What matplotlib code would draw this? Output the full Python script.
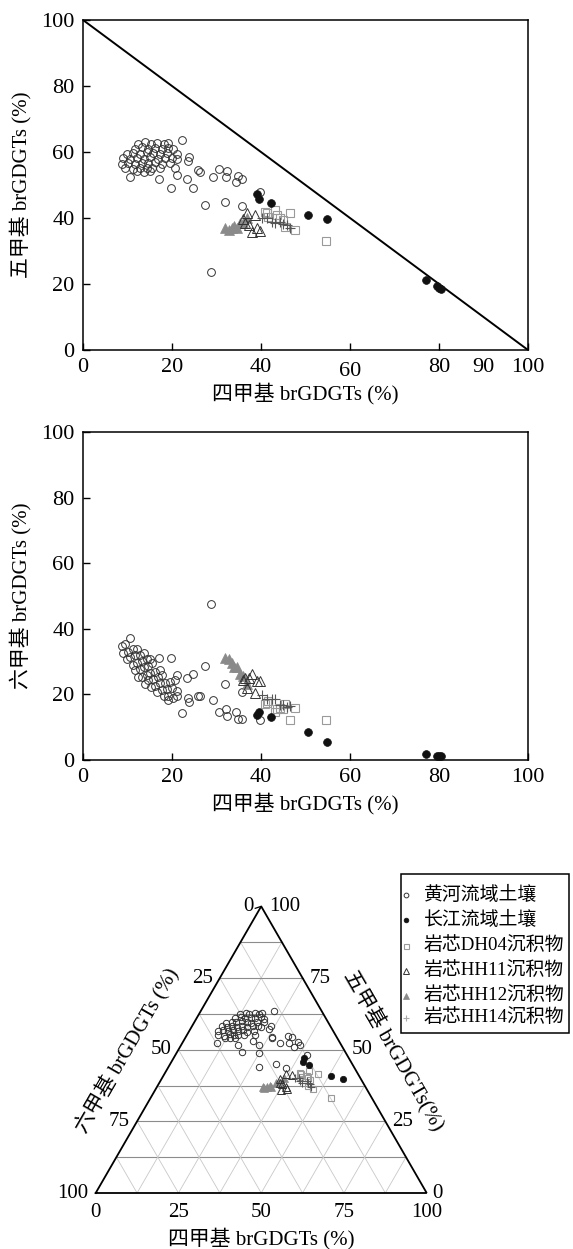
import matplotlib
matplotlib.use('Agg')
import matplotlib.pyplot as plt
import matplotlib.transforms as mtransforms
import numpy as np

plt.rcParams['font.family'] = ['Liberation Serif', 'Noto Sans CJK SC']
plt.rcParams['axes.unicode_minus'] = False

# ---- data (%): tetra-, penta-, hexa-methylated brGDGTs ----
yr_tetra = [12.4, 13.9, 15.2, 16.6, 18.2, 19.0,
            11.7, 13.2, 14.7, 16.2, 17.7, 19.2, 20.3,
            9.8, 11.3, 12.7, 14.3, 15.8, 17.3, 18.8, 21.1,
            9.1, 10.6, 12.1, 13.6, 15.1, 16.9, 18.4, 19.9, 21.1,
            8.7, 10.2, 11.7, 13.2, 14.7, 16.2, 17.7, 19.6,
            9.4, 11.3, 12.8, 14.3, 15.4, 17.3, 20.7,
            12.1, 13.6, 15.1, 10.6,
            22.2, 23.9, 23.7, 25.9, 26.4, 30.6, 32.3, 34.8, 35.8, 29.3, 32.1, 34.4,
            21.2, 23.4, 17.0, 19.7, 24.8, 27.5, 32.0, 35.8, 28.7, 39.8]
yr_penta = [62.4, 62.9, 62.5, 62.8, 62.3, 62.7,
            61.0, 61.4, 60.9, 61.2, 61.0, 61.3, 60.8,
            59.4, 59.8, 59.5, 59.9, 59.6, 59.3, 59.7, 59.5,
            58.2, 57.9, 58.3, 58.0, 58.4, 57.8, 58.1, 58.2, 57.9,
            56.5, 56.8, 56.4, 56.7, 56.6, 56.9, 56.3, 56.6,
            55.2, 54.9, 55.3, 55.0, 55.1, 55.2, 55.0,
            54.1, 53.9, 54.2, 52.3,
            63.6, 58.4, 57.3, 54.5, 54.0, 54.7, 54.3, 52.7, 51.7, 52.5, 52.3, 51.0,
            52.9, 51.7, 51.8, 49.2, 49.0, 43.9, 44.9, 43.6, 23.7, 48.0]
yr_hexa = [25.2, 23.2, 22.3, 20.6, 19.5, 18.3,
           27.3, 25.4, 24.4, 22.6, 21.3, 19.5, 18.9,
           30.8, 28.9, 27.8, 25.8, 24.6, 23.4, 21.5, 19.4,
           32.7, 31.5, 29.6, 28.4, 26.5, 25.3, 23.5, 21.9, 21.0,
           34.8, 33.0, 31.9, 30.1, 28.7, 26.9, 26.0, 23.8,
           35.4, 33.8, 31.9, 30.7, 29.5, 27.5, 24.3,
           33.8, 32.5, 30.7, 37.1,
           14.2, 17.7, 19.0, 19.6, 19.6, 14.7, 13.4, 12.5, 12.5, 18.2, 15.6, 14.6,
           25.9, 24.9, 31.2, 31.1, 26.2, 28.6, 23.1, 20.6, 47.6, 12.2]

cj_tetra = [39.2, 39.6, 42.2, 50.6, 54.9, 77.0, 79.5, 79.9, 80.4]
cj_penta = [47.2, 45.8, 44.6, 40.9, 39.6, 21.2, 19.4, 18.9, 18.4]
cj_hexa = [13.6, 14.6, 13.2, 8.5, 5.5, 1.8, 1.1, 1.2, 1.2]

dh04_tetra = [40.9, 41.3, 41.6, 43.1, 43.5, 44.2, 45.0, 45.4, 46.5, 47.6, 54.7]
dh04_penta = [41.9, 41.4, 40.4, 42.4, 40.9, 40.0, 39.4, 37.4, 41.4, 36.4, 33.0]
dh04_hexa = [17.2, 17.3, 18.0, 14.5, 15.6, 15.8, 15.6, 17.2, 12.1, 16.0, 12.3]

hh11_tetra = [36.0, 36.4, 36.8, 37.2, 37.9, 38.7, 39.0, 39.8]
hh11_penta = [39.6, 38.5, 41.4, 37.9, 35.9, 41.0, 36.9, 36.2]
hh11_hexa = [24.4, 25.1, 21.8, 24.9, 26.2, 20.3, 24.1, 24.0]

hh12_tetra = [32.0, 32.7, 33.4, 34.0, 34.5, 35.3, 36.0, 36.8]
hh12_penta = [37.0, 36.5, 37.0, 37.5, 37.0, 38.5, 38.5, 40.0]
hh12_hexa = [31.0, 30.8, 29.6, 28.5, 28.5, 26.2, 25.5, 23.2]

hh14_tetra = [40.2, 41.3, 42.4, 43.1, 44.3, 45.0, 45.8, 46.5]
hh14_penta = [40.0, 40.0, 38.9, 38.4, 38.9, 38.2, 37.9, 36.9]
hh14_hexa = [19.8, 18.7, 18.7, 18.5, 16.8, 16.8, 16.3, 16.6]

labels = ['黄河流域土壤', '长江流域土壤', '岩芯DH04沉积物',
          '岩芯HH11沉积物', '岩芯HH12沉积物', '岩芯HH14沉积物']

# samples shown in the ternary diagram (the low-penta ones are left out there)
tern_min_penta = 30

groups = [
    (yr_tetra, yr_penta, yr_hexa, dict(marker='o', mfc='none', mec='#333333', mew=0.7)),
    (hh12_tetra, hh12_penta, hh12_hexa, dict(marker='^', mfc='#8a8a8a', mec='#8a8a8a', mew=0.5)),
    (hh11_tetra, hh11_penta, hh11_hexa, dict(marker='^', mfc='none', mec='#333333', mew=0.7)),
    (dh04_tetra, dh04_penta, dh04_hexa, dict(marker='s', mfc='none', mec='#9a9a9a', mew=0.8)),
    (hh14_tetra, hh14_penta, hh14_hexa, dict(marker='+', mfc='none', mec='#555555', mew=0.8)),
    (cj_tetra, cj_penta, cj_hexa, dict(marker='o', mfc='#111111', mec='#111111', mew=0.5)),
]
sizes = {'o': 5.6, '^': 6.8, 's': 5.4, '+': 6.5}

W, H = 573, 1249
fig = plt.figure(figsize=(W / 100, H / 100), dpi=100, facecolor='white')


def px_axes(x0, y0, x1, y1):
    return fig.add_axes([x0 / W, 1 - y1 / H, (x1 - x0) / W, (y1 - y0) / H])


def style_axes(ax, ylabel):
    ax.set_xlim(0, 100)
    ax.set_ylim(0, 100)
    ax.set_xticks([0, 20, 40, 60, 80, 100])
    ax.set_yticks([0, 20, 40, 60, 80, 100])
    ax.tick_params(direction='in', length=5, width=1, labelsize=16, top=False, right=False)
    ax.tick_params(axis='x', pad=6)
    ax.tick_params(axis='y', pad=6)
    for s in ax.spines.values():
        s.set_linewidth(1.1)
    ax.set_xlabel('四甲基 brGDGTs (%)', fontsize=15)
    ax.set_ylabel(ylabel, fontsize=15)
    ax.xaxis.set_label_coords(0.5, -0.1)
    ax.yaxis.set_label_coords(-0.115, 0.5)


# ---- top: tetra vs penta ----
ax1 = px_axes(83, 20, 528, 350)
ax1.plot([0, 100], [100, 0], color='black', lw=1.4, zorder=1)
for t, p, h, st in groups:
    ax1.plot(t, p, ls='none', ms=sizes[st['marker']], zorder=3, **st)
style_axes(ax1, '五甲基 brGDGTs (%)')
shift_down = mtransforms.ScaledTranslation(0, -6 / 72, fig.dpi_scale_trans)
ax1.text(90, 0, '90', fontsize=16, ha='center', va='top',
         transform=mtransforms.blended_transform_factory(ax1.transData, ax1.transAxes) + shift_down)
for lab in ax1.get_xticklabels():
    if lab.get_text() == '60':
        lab.set_transform(lab.get_transform()
                          + mtransforms.ScaledTranslation(0, -3 / 72, fig.dpi_scale_trans))

# ---- middle: tetra vs hexa ----
ax2 = px_axes(83, 432, 528, 760)
for t, p, h, st in groups:
    ax2.plot(t, h, ls='none', ms=sizes[st['marker']], zorder=3, **st)
style_axes(ax2, '六甲基 brGDGTs (%)')

# ---- bottom: ternary ----
side = 331.0
tx0, ty0 = 95.7, 1193.0
r3 = np.sqrt(3) / 2
ax3 = px_axes(tx0, ty0 - side * r3, tx0 + side, ty0)
ax3.set_xlim(0, 100)
ax3.set_ylim(0, 100 * r3)
ax3.axis('off')

grid = np.arange(12.5, 100, 12.5)
for g in grid:
    # constant penta (horizontal)
    ax3.plot([g / 2, 100 - g / 2], [g * r3, g * r3], color='#8c8c8c', lw=0.8, zorder=1)
    # constant tetra
    ax3.plot([g, g + (100 - g) / 2], [0, (100 - g) * r3], color='#c8c8c8', lw=0.6, zorder=1)
    # constant hexa
    ax3.plot([100 - g, (100 - g) / 2], [0, (100 - g) * r3], color='#c8c8c8', lw=0.6, zorder=1)
ax3.plot([0, 100, 50, 0], [0, 0, 100 * r3, 0], color='black', lw=1.3, zorder=2,
         clip_on=False, solid_joinstyle='miter')

tsizes = {'o': 4.6, '^': 5.6, 's': 4.6, '+': 5.5}
for t, p, h, st in groups:
    keep = [i for i, b in enumerate(p) if b >= tern_min_penta]
    xs = [t[i] + p[i] / 2 for i in keep]
    ys = [p[i] * r3 for i in keep]
    ax3.plot(xs, ys, ls='none', ms=tsizes[st['marker']], zorder=3, clip_on=False, **st)

fs = 15
for v in [25, 50, 75]:
    # bottom axis (tetra)
    ax3.text(v, -6, str(v), fontsize=fs, ha='center', va='center')
    # left axis (hexa)
    ax3.text((100 - v) / 2 - 2.2, (100 - v) * r3, str(v), fontsize=fs, ha='right', va='center')
    # right axis (penta)
    ax3.text(100 - v / 2 + 2.2, v * r3, str(v), fontsize=fs, ha='left', va='center')
ax3.text(0, -6, '0', fontsize=fs, ha='center', va='center')
ax3.text(100, -6, '100', fontsize=fs, ha='center', va='center')
ax3.text(-2.3, 0, '100', fontsize=fs, ha='right', va='center')
ax3.text(101.6, 0, '0', fontsize=fs, ha='left', va='center')
ax3.text(47.8, 100 * r3, '0', fontsize=fs, ha='right', va='center')
ax3.text(52.4, 100 * r3, '100', fontsize=fs, ha='left', va='center')
ax3.plot([48.2, 50], [100 * r3 - 0.6, 100 * r3], color='black', lw=0.9, clip_on=False)

ax3.text(50, -13.7, '四甲基 brGDGTs (%)', fontsize=fs, ha='center', va='center')
ax3.text(9.4, 43.2, '六甲基 brGDGTs (%)', fontsize=fs, ha='center', va='center',
         rotation=60, rotation_mode='anchor')
ax3.text(90.2, 43.2, '五甲基 brGDGTs(%)', fontsize=fs, ha='center', va='center',
         rotation=-60, rotation_mode='anchor')

# ---- legend (drawn in pixel space) ----
lax = fig.add_axes([0, 0, 1, 1])
lax.set_xlim(0, W)
lax.set_ylim(H, 0)
lax.axis('off')
lax.add_patch(plt.Rectangle((401, 874), 168, 159, fill=False, edgecolor='black', lw=1.1))
leg_y = [895, 919.5, 945.5, 970.5, 995.5, 1017.5]
leg_order = [0, 5, 3, 2, 1, 4]
leg_ms = {'o': 3.4, '^': 4.2, 's': 3.6, '+': 4.2}
for y, lab, gi in zip(leg_y, labels, leg_order):
    st = dict(groups[gi][3])
    if st['marker'] == '+':
        st['mec'] = '#aaaaaa'
    lax.plot([406], [y], ls='none', ms=leg_ms[st['marker']], **st)
    lax.text(424, y, lab, fontsize=13.6, ha='left', va='center')

fig.savefig('out.png', dpi=100, facecolor='white')
